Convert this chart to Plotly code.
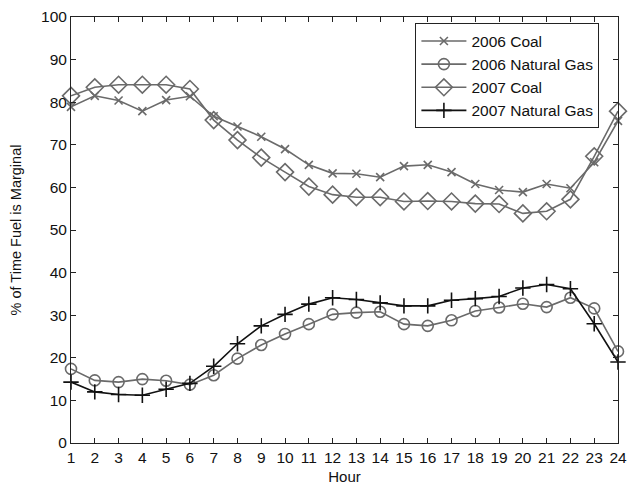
import plotly.graph_objects as go

hours = list(range(1, 25))
coal_2006 = [78.9, 81.5, 80.4, 77.9, 80.5, 81.4, 76.7, 74.3, 71.9, 69.0, 65.3, 63.3,
             63.2, 62.4, 65.0, 65.3, 63.6, 60.8, 59.4, 58.9, 60.8, 59.8, 65.9, 75.6]
gas_2006 = [17.4, 14.7, 14.3, 15.0, 14.6, 13.7, 15.9, 19.8, 23.0, 25.6, 27.9, 30.2,
            30.6, 30.8, 27.9, 27.5, 28.8, 31.0, 31.8, 32.7, 31.9, 34.1, 31.6, 21.5]
coal_2007 = [81.5, 83.5, 84.1, 84.1, 84.1, 83.1, 75.8, 71.1, 67.0, 63.6, 60.2, 58.3,
             57.7, 57.7, 56.7, 56.8, 56.7, 56.2, 56.1, 53.9, 54.4, 57.2, 67.3, 77.9]
gas_2007 = [14.3, 12.0, 11.4, 11.2, 12.6, 14.0, 18.0, 23.3, 27.5, 30.2, 32.6, 34.1,
            33.7, 32.9, 32.2, 32.2, 33.5, 33.9, 34.4, 36.4, 37.2, 36.2, 28.0, 19.0]

series = [
    ("2006 Coal", coal_2006, "#6a6a6a", "x-thin-open", 8),
    ("2006 Natural Gas", gas_2006, "#6a6a6a", "circle-open", 11),
    ("2007 Coal", coal_2007, "#6a6a6a", "diamond-open", 13),
    ("2007 Natural Gas", gas_2007, "#111111", "cross-thin-open", 11),
]

fig = go.Figure()
for name, vals, col, sym, sz in series:
    fig.add_trace(go.Scatter(
        x=hours, y=vals, name=name, mode="lines+markers", cliponaxis=False,
        line=dict(color=col, width=1.6),
        marker=dict(symbol=sym, size=sz, color=col, line=dict(color=col, width=1.6)),
    ))

FONT = "Liberation Sans, Arial"
axis_common = dict(
    showgrid=False, zeroline=False, showline=True, linecolor="#222", linewidth=1,
    mirror="ticks", ticks="inside", ticklen=5, tickcolor="#222", automargin=False,
    ticklabeloverflow="allow",
    tickfont=dict(family=FONT, size=15.5, color="#111"),
)
fig.update_xaxes(range=[1, 24], tickmode="array", tickvals=hours,
                 title=dict(text="Hour", font=dict(family=FONT, size=15, color="#111"), standoff=6),
                 **axis_common)
fig.update_yaxes(range=[0, 100], tickmode="array", tickvals=list(range(0, 101, 10)),
                 title=dict(text="% of Time Fuel is Marginal", font=dict(family=FONT, size=14.5, color="#111"), standoff=16),
                 **axis_common)

fig.update_layout(
    width=628, height=480,
    margin=dict(l=63, r=18, t=9, b=45),
    plot_bgcolor="white", paper_bgcolor="white",
    legend=dict(x=0.966, y=0.985, xanchor="right", yanchor="top",
                bordercolor="#222", borderwidth=1, bgcolor="white",
                font=dict(family=FONT, size=15.5, color="#111"),
                tracegroupgap=0, itemwidth=45),
)

fig.write_html("out.html")
